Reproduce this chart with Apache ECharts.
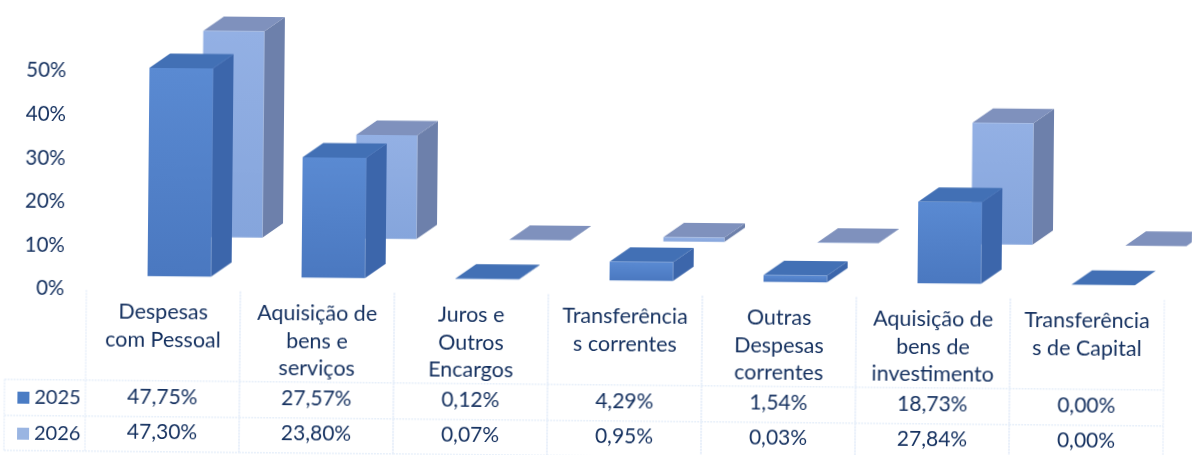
<!DOCTYPE html>
<html>
<head>
<meta charset="utf-8">
<title>Despesas 2025 / 2026</title>
<script src="https://cdn.jsdelivr.net/npm/echarts@6/dist/echarts.min.js"></script>
<style>
  html, body { margin: 0; padding: 0; background: #fff; overflow: hidden; width: 1192px; height: 455px; }
  /* the source is a slightly crooked scan, so the whole chart leans a little */
  #chart { width: 1192px; height: 480px; transform: rotate(0.53deg); transform-origin: 596px 227.5px; }
</style>
</head>
<body>
<div id="chart"></div>
<script>
const categories = [
  'Despesas\ncom Pessoal',
  'Aquisição de\nbens e\nserviços',
  'Juros e\nOutros\nEncargos',
  'Transferência\ns correntes',
  'Outras\nDespesas\ncorrentes',
  'Aquisição de\nbens de\ninvestimento',
  'Transferência\ns de Capital'
];
const values2025 = [47.75, 27.57, 0.12, 4.29, 1.54, 18.73, 0.0];
const values2026 = [47.3, 23.8, 0.07, 0.95, 0.03, 27.84, 0.0];
const yTicks = { min: 0, max: 50, interval: 10 };

const FONT = 'Lato';
const TEXT = '#14305f';
const RULE = '#e8f0fa';

const pct = (v) => v.toFixed(2).replace('.', ',') + '%';

// fake 3D box: front face, side and top
const box3d = (shift, colors) => (params, api) => {
  const i = api.value(0);
  const base = api.coord([i, 0]);
  const top = api.coord([i, api.value(1)]);
  const x = base[0] + shift.x;
  const y0 = base[1] + shift.y;
  const y1 = top[1] + shift.y;
  const w = shift.w;
  const dx = 20.5, dy = -14.5;
  const poly = (points, fill) => ({ type: 'polygon', shape: { points }, style: { fill } });
  return {
    type: 'group',
    children: [
      poly([[x + w, y0], [x + w + dx, y0 + dy], [x + w + dx, y1 + dy], [x + w, y1]], colors.side),
      poly([[x, y1], [x + dx, y1 + dy], [x + w + dx, y1 + dy], [x + w, y1]], colors.top),
      { type: 'rect', shape: { x, y: y1, width: w, height: y0 - y1 }, style: { fill: colors.front } }
    ]
  };
};

const vGrad = (a, b) => new echarts.graphic.LinearGradient(0, 0, 0, 1, [
  { offset: 0, color: a }, { offset: 1, color: b }
]);

// table rules under the plot
const tableRules = (params, api) => {
  const i = api.value(0);
  const band = api.size([1, 0])[0];
  const cx = api.coord([i, 0])[0];
  const y0 = api.coord([i, 0])[1];
  const rows = [y0 + 91, y0 + 127, y0 + 162];
  const line = (x1, y1, x2, y2) => ({
    type: 'line',
    shape: { x1, y1, x2, y2 },
    style: { stroke: RULE, lineWidth: 1.5, lineDash: [2, 1] }
  });
  const left = cx - band / 2;
  const right = cx + band / 2;
  const children = [line(left, y0 + 1, left, rows[2]), line(right, y0 + 1, right, rows[2])];
  rows.forEach((r) => children.push(line(left, r, right, r)));
  if (i === 0) {
    rows.forEach((r) => children.push(line(6, r, left, r)));
    children.push(line(6, rows[0], 6, rows[2]));
  }
  return { type: 'group', children };
};

const chart = echarts.init(document.getElementById('chart'));

const valueAxis = (values, margin) => ({
  type: 'category',
  position: 'bottom',
  data: values.map(pct),
  axisLine: { show: false },
  axisTick: { show: false },
  axisLabel: { interval: 0, margin, color: TEXT, fontFamily: FONT, fontSize: 21, lineHeight: 20 }
});

chart.setOption({
  backgroundColor: '#fff',
  animation: false,
  grid: { left: 87, top: 75.7, width: 1078, height: 218 },
  legend: {
    data: ['2025', '2026'],
    orient: 'vertical',
    left: 14,
    top: 388,
    itemWidth: 12,
    itemHeight: 12,
    itemGap: 16,
    icon: 'rect',
    textStyle: { color: TEXT, fontFamily: FONT, fontSize: 20 }
  },
  xAxis: [
    {
      type: 'category',
      data: categories,
      axisLine: { show: false },
      axisTick: { show: false },
      splitLine: { show: false },
      axisLabel: { interval: 0, margin: 9, color: TEXT, fontFamily: FONT, fontSize: 21.5, lineHeight: 27.5 }
    },
    valueAxis(values2025, 98),
    valueAxis(values2026, 133)
  ],
  yAxis: {
    type: 'value',
    min: yTicks.min,
    max: yTicks.max,
    interval: yTicks.interval,
    axisLine: { show: false },
    axisTick: { show: false },
    splitLine: { show: false },
    axisLabel: { margin: 22, color: TEXT, fontFamily: FONT, fontSize: 20.5, formatter: '{value}%' }
  },
  series: [
    {
      type: 'custom',
      name: 'tabela',
      silent: true,
      clip: false,
      data: categories.map((c, i) => [i, 0]),
      renderItem: tableRules
    },
    {
      type: 'custom',
      name: '2026',
      clip: false,
      itemStyle: { color: '#9ab5e2' },
      data: values2026.map((v, i) => [i, v]),
      renderItem: box3d({ x: 37.5, y: -53, w: 61 }, {
        front: vGrad('#93b0e4', '#85a5dc'),
        side: '#6d80ab',
        top: '#7f91bd'
      })
    },
    {
      type: 'custom',
      name: '2025',
      clip: false,
      itemStyle: { color: '#4a7cc4' },
      data: values2025.map((v, i) => [i, v]),
      renderItem: box3d({ x: -16, y: -13.4, w: 63.5 }, {
        front: vGrad('#5a8ad2', '#4a78c0'),
        side: '#3c66ab',
        top: '#4270b5'
      })
    }
  ]
});
</script>
</body>
</html>
